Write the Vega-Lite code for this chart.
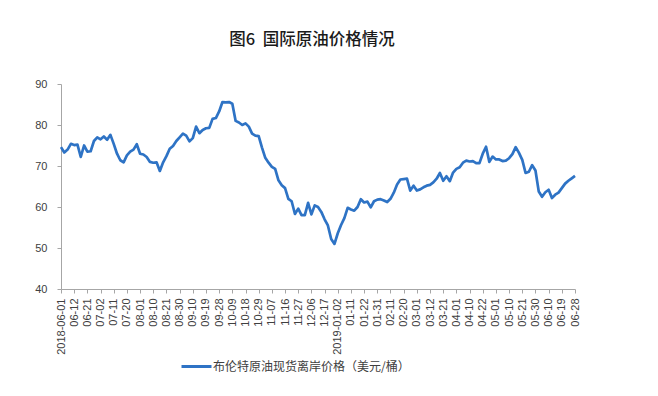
{
  "$schema": "https://vega.github.io/schema/vega-lite/v6.json",
  "width": 514,
  "height": 205,
  "autosize": {"type": "none"},
  "padding": {"left": 61, "top": 84, "right": 83, "bottom": 107},
  "background": "white",
  "title": {"text": "图6\u00a0\u00a0国际原油价格情况", "font": "Noto Sans CJK SC", "fontSize": 16.5, "fontWeight": 500, "color": "#1a1a1a", "dx": -6, "offset": 30},
  "data": {"values": [
    {"date": "2018-06-01", "price": 74.6}, {"date": "2018-06-05", "price": 73.3}, {"date": "2018-06-07", "price": 74.0}, {"date": "2018-06-08", "price": 75.4},
    {"date": "2018-06-12", "price": 75.1}, {"date": "2018-06-14", "price": 75.2}, {"date": "2018-06-18", "price": 72.2}, {"date": "2018-06-19", "price": 75.0},
    {"date": "2018-06-21", "price": 73.5}, {"date": "2018-06-25", "price": 73.6}, {"date": "2018-06-27", "price": 76.1}, {"date": "2018-06-28", "price": 77.0},
    {"date": "2018-07-02", "price": 76.5}, {"date": "2018-07-04", "price": 77.2}, {"date": "2018-07-06", "price": 76.4}, {"date": "2018-07-09", "price": 77.6},
    {"date": "2018-07-11", "price": 75.4}, {"date": "2018-07-13", "price": 73.0}, {"date": "2018-07-17", "price": 71.4}, {"date": "2018-07-18", "price": 70.9},
    {"date": "2018-07-20", "price": 72.6}, {"date": "2018-07-24", "price": 73.5}, {"date": "2018-07-26", "price": 74.0}, {"date": "2018-07-27", "price": 75.3},
    {"date": "2018-08-01", "price": 73.0}, {"date": "2018-08-03", "price": 72.8}, {"date": "2018-08-07", "price": 72.2}, {"date": "2018-08-08", "price": 71.0},
    {"date": "2018-08-10", "price": 70.8}, {"date": "2018-08-14", "price": 70.9}, {"date": "2018-08-16", "price": 68.8}, {"date": "2018-08-17", "price": 70.9},
    {"date": "2018-08-21", "price": 72.4}, {"date": "2018-08-23", "price": 74.2}, {"date": "2018-08-27", "price": 74.9}, {"date": "2018-08-28", "price": 76.1},
    {"date": "2018-08-30", "price": 77.0}, {"date": "2018-09-03", "price": 77.9}, {"date": "2018-09-05", "price": 77.4}, {"date": "2018-09-06", "price": 76.0},
    {"date": "2018-09-10", "price": 76.8}, {"date": "2018-09-12", "price": 79.6}, {"date": "2018-09-14", "price": 78.0}, {"date": "2018-09-17", "price": 78.8},
    {"date": "2018-09-19", "price": 79.2}, {"date": "2018-09-21", "price": 79.3}, {"date": "2018-09-25", "price": 81.5}, {"date": "2018-09-26", "price": 81.7},
    {"date": "2018-09-28", "price": 83.3}, {"date": "2018-10-02", "price": 85.6}, {"date": "2018-10-04", "price": 85.5}, {"date": "2018-10-05", "price": 85.6},
    {"date": "2018-10-09", "price": 85.2}, {"date": "2018-10-11", "price": 81.0}, {"date": "2018-10-15", "price": 80.6}, {"date": "2018-10-16", "price": 80.0},
    {"date": "2018-10-18", "price": 80.4}, {"date": "2018-10-22", "price": 79.6}, {"date": "2018-10-24", "price": 77.9}, {"date": "2018-10-25", "price": 77.4},
    {"date": "2018-10-29", "price": 77.3}, {"date": "2018-10-31", "price": 74.5}, {"date": "2018-11-02", "price": 72.0}, {"date": "2018-11-05", "price": 70.8},
    {"date": "2018-11-07", "price": 69.8}, {"date": "2018-11-09", "price": 69.3}, {"date": "2018-11-13", "price": 66.5}, {"date": "2018-11-14", "price": 65.3},
    {"date": "2018-11-16", "price": 64.6}, {"date": "2018-11-20", "price": 62.0}, {"date": "2018-11-22", "price": 61.4}, {"date": "2018-11-23", "price": 58.3},
    {"date": "2018-11-27", "price": 59.6}, {"date": "2018-11-29", "price": 58.0}, {"date": "2018-12-03", "price": 58.0}, {"date": "2018-12-04", "price": 61.0},
    {"date": "2018-12-06", "price": 58.2}, {"date": "2018-12-10", "price": 60.4}, {"date": "2018-12-12", "price": 60.0}, {"date": "2018-12-13", "price": 58.8},
    {"date": "2018-12-17", "price": 57.0}, {"date": "2018-12-19", "price": 55.5}, {"date": "2018-12-21", "price": 52.2}, {"date": "2018-12-27", "price": 51.0},
    {"date": "2019-01-02", "price": 53.6}, {"date": "2019-01-04", "price": 55.6}, {"date": "2019-01-08", "price": 57.3}, {"date": "2019-01-09", "price": 59.8},
    {"date": "2019-01-11", "price": 59.4}, {"date": "2019-01-15", "price": 59.1}, {"date": "2019-01-17", "price": 60.0}, {"date": "2019-01-18", "price": 61.9},
    {"date": "2019-01-22", "price": 61.1}, {"date": "2019-01-24", "price": 61.3}, {"date": "2019-01-28", "price": 59.9}, {"date": "2019-01-29", "price": 61.4},
    {"date": "2019-01-31", "price": 61.8}, {"date": "2019-02-04", "price": 61.9}, {"date": "2019-02-06", "price": 61.6}, {"date": "2019-02-07", "price": 61.2},
    {"date": "2019-02-11", "price": 62.0}, {"date": "2019-02-13", "price": 63.5}, {"date": "2019-02-15", "price": 65.5}, {"date": "2019-02-18", "price": 66.7},
    {"date": "2019-02-20", "price": 66.8}, {"date": "2019-02-22", "price": 66.9}, {"date": "2019-02-26", "price": 64.0}, {"date": "2019-02-27", "price": 65.2},
    {"date": "2019-03-01", "price": 64.0}, {"date": "2019-03-05", "price": 64.3}, {"date": "2019-03-07", "price": 64.8}, {"date": "2019-03-08", "price": 65.2},
    {"date": "2019-03-12", "price": 65.4}, {"date": "2019-03-14", "price": 66.0}, {"date": "2019-03-18", "price": 66.9}, {"date": "2019-03-19", "price": 68.3},
    {"date": "2019-03-21", "price": 66.4}, {"date": "2019-03-25", "price": 67.5}, {"date": "2019-03-27", "price": 66.3}, {"date": "2019-03-28", "price": 68.4},
    {"date": "2019-04-01", "price": 69.3}, {"date": "2019-04-03", "price": 69.7}, {"date": "2019-04-05", "price": 70.8}, {"date": "2019-04-08", "price": 71.3},
    {"date": "2019-04-10", "price": 71.1}, {"date": "2019-04-12", "price": 71.2}, {"date": "2019-04-16", "price": 70.7}, {"date": "2019-04-17", "price": 70.7},
    {"date": "2019-04-22", "price": 73.0}, {"date": "2019-04-24", "price": 74.7}, {"date": "2019-04-26", "price": 71.0}, {"date": "2019-04-29", "price": 72.3},
    {"date": "2019-05-01", "price": 71.6}, {"date": "2019-05-03", "price": 71.6}, {"date": "2019-05-07", "price": 71.2}, {"date": "2019-05-08", "price": 71.3},
    {"date": "2019-05-10", "price": 71.9}, {"date": "2019-05-14", "price": 72.9}, {"date": "2019-05-16", "price": 74.6}, {"date": "2019-05-17", "price": 73.2},
    {"date": "2019-05-21", "price": 71.5}, {"date": "2019-05-23", "price": 68.3}, {"date": "2019-05-27", "price": 68.6}, {"date": "2019-05-28", "price": 70.2},
    {"date": "2019-05-30", "price": 68.9}, {"date": "2019-06-03", "price": 63.8}, {"date": "2019-06-05", "price": 62.5}, {"date": "2019-06-06", "price": 63.6},
    {"date": "2019-06-10", "price": 64.2}, {"date": "2019-06-12", "price": 62.2}, {"date": "2019-06-14", "price": 63.0}, {"date": "2019-06-17", "price": 63.5},
    {"date": "2019-06-19", "price": 64.6}, {"date": "2019-06-21", "price": 65.7}, {"date": "2019-06-25", "price": 66.4}, {"date": "2019-06-26", "price": 67.0},
    {"date": "2019-06-28", "price": 67.6}
  ]},
  "mark": {"type": "line", "strokeWidth": 2.7, "strokeJoin": "round"},
  "encoding": {
    "x": {
      "field": "date", "type": "ordinal", "sort": "ascending",
      "scale": {"type": "point", "padding": 0},
      "axis": {
        "title": null,
        "values": ["2018-06-01","2018-06-12","2018-06-21","2018-07-02","2018-07-11","2018-07-20","2018-08-01","2018-08-10","2018-08-21","2018-08-30","2018-09-10","2018-09-19","2018-09-28","2018-10-09","2018-10-18","2018-10-29","2018-11-07","2018-11-16","2018-11-27","2018-12-06","2018-12-17","2019-01-02","2019-01-11","2019-01-22","2019-01-31","2019-02-11","2019-02-20","2019-03-01","2019-03-12","2019-03-21","2019-04-01","2019-04-10","2019-04-22","2019-05-01","2019-05-10","2019-05-21","2019-05-30","2019-06-10","2019-06-19","2019-06-28"],
        "labelExpr": "datum.value == '2018-06-01' || datum.value == '2019-01-02' ? datum.value : substring(datum.value, 5)",
        "labelAngle": -90,
        "labelFont": "Liberation Sans",
        "labelFontSize": 11,
        "labelColor": "#404040",
        "labelPadding": 5,
        "labelOverlap": false,
        "domainColor": "#a6a6a6",
        "tickColor": "#a6a6a6",
        "tickSize": 4,
        "grid": false
      }
    },
    "y": {
      "field": "price", "type": "quantitative",
      "scale": {"domain": [40, 90], "nice": false, "zero": false},
      "axis": {
        "title": null,
        "values": [40, 50, 60, 70, 80, 90],
        "labelFont": "Liberation Sans",
        "labelFontSize": 11,
        "labelColor": "#404040",
        "labelPadding": 10,
        "domainColor": "#a6a6a6",
        "tickColor": "#a6a6a6",
        "tickSize": 4,
        "grid": false
      }
    },
    "color": {
      "datum": "布伦特原油现货离岸价格（美元/桶）",
      "scale": {"range": ["#2e73c5"]},
      "legend": {
        "title": null,
        "orient": "none",
        "legendX": 119,
        "legendY": 266,
        "symbolType": "stroke",
        "symbolSize": 900,
        "symbolStrokeWidth": 3,
        "labelFont": "Noto Sans CJK SC",
        "labelFontSize": 12,
        "labelColor": "#404040",
        "labelLimit": 400,
        "labelOffset": 0
      }
    }
  },
  "config": {"view": {"stroke": null}}
}
